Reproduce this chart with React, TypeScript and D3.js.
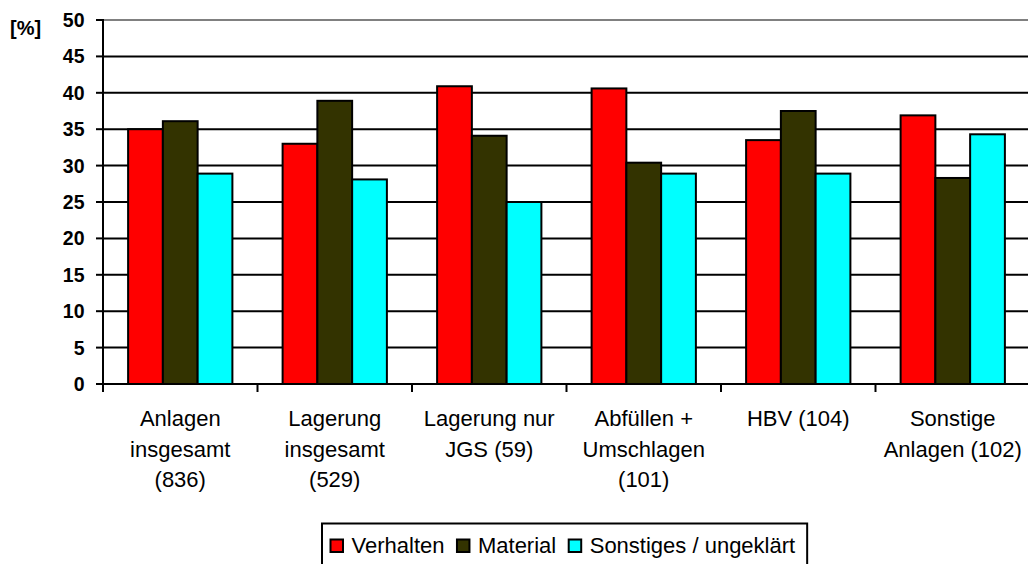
import React from "react";
import * as d3 from "d3";

const categories: string[][] = [
  ["Anlagen", "insgesamt", "(836)"],
  ["Lagerung", "insgesamt", "(529)"],
  ["Lagerung nur", "JGS (59)"],
  ["Abfüllen +", "Umschlagen", "(101)"],
  ["HBV (104)"],
  ["Sonstige", "Anlagen (102)"],
];
const seriesNames = ["Verhalten", "Material", "Sonstiges / ungeklärt"];
const verhalten = [35, 33, 40.9, 40.6, 33.5, 36.9];
const material = [36.1, 38.9, 34.1, 30.4, 37.5, 28.3];
const sonstiges = [28.9, 28.1, 25, 28.9, 28.9, 34.3];
const seriesColors = ["#FF0000", "#333300", "#00FFFF"];
const yTicks = [0, 5, 10, 15, 20, 25, 30, 35, 40, 45, 50];

const W = 1028;
const H = 564;
const FONT = "'Liberation Sans', Arial, sans-serif";

function measure(text: string, font: string): number {
  const c = document.createElement("canvas");
  const ctx = c.getContext("2d");
  if (!ctx) return text.length * 11;
  ctx.font = font;
  return ctx.measureText(text).width;
}

export default function App() {
  const series = [verhalten, material, sonstiges];
  const catKeys = categories.map((_, i) => String(i));
  const left = 103;
  const right = 1030;
  const top = 20;
  const bottom = 384;

  const x0 = d3.scaleBand<string>().domain(catKeys).range([left, right]).padding(0);
  const bw = x0.bandwidth();
  const groupW = bw * 0.675;
  const x1 = d3
    .scaleBand<string>()
    .domain(seriesNames)
    .range([(bw - groupW) / 2, (bw + groupW) / 2])
    .padding(0);
  const y = d3.scaleLinear().domain([0, 50]).range([bottom, top]);

  // legend layout
  const legFont = `22px ${FONT}`;
  const legX = 322;
  const legTop = 523.5;
  const items: { x: number; name: string; color: string }[] = [];
  let cx = legX + 8.5;
  seriesNames.forEach((n, i) => {
    items.push({ x: cx, name: n, color: seriesColors[i] });
    cx += 21 + measure(n, legFont) + 12.5;
  });
  const legRight = cx - 0.5;

  return (
    <svg
      width={W}
      height={H}
      style={{ position: "absolute", left: 0, top: 0, background: "#fff" }}
      fontFamily={FONT}
    >
      <rect x={0} y={0} width={W} height={H} fill="#fff" />
      {/* gridlines */}
      {yTicks.map((t) =>
        t === 0 ? null : (
          <line
            key={"g" + t}
            x1={left}
            x2={right}
            y1={y(t)}
            y2={y(t)}
            stroke={t === 50 ? "#808080" : "#000"}
            strokeWidth={2}
          />
        )
      )}
      {/* bars */}
      {catKeys.map((k, ci) =>
        series.map((vals, si) => (
          <rect
            key={k + "-" + si}
            x={(x0(k) as number) + (x1(seriesNames[si]) as number)}
            y={y(vals[ci])}
            width={x1.bandwidth()}
            height={y(0) - y(vals[ci])}
            fill={seriesColors[si]}
            stroke="#000"
            strokeWidth={2}
          />
        ))
      )}
      {/* axes */}
      <line x1={left} x2={left} y1={top - 1} y2={bottom + 1} stroke="#000" strokeWidth={2} />
      <line x1={left - 1} x2={right} y1={bottom} y2={bottom} stroke="#000" strokeWidth={2} />
      {yTicks.map((t) => (
        <g key={"yt" + t}>
          <line x1={left - 7} x2={left} y1={y(t)} y2={y(t)} stroke="#000" strokeWidth={2} />
          <text
            x={84.5}
            y={y(t)}
            dy="0.36em"
            textAnchor="end"
            fontSize={19.5}
            fontWeight="bold"
            fill="#000"
          >
            {t}
          </text>
        </g>
      ))}
      <text x={10} y={35} fontSize={20} fontWeight="bold" fill="#000">
        [%]
      </text>
      {/* x ticks */}
      {catKeys.concat(["end"]).map((k, i) => {
        const xx = i < catKeys.length ? (x0(k) as number) : right;
        return <line key={"xt" + i} x1={xx} x2={xx} y1={bottom} y2={bottom + 8} stroke="#000" strokeWidth={2} />;
      })}
      {categories.map((lines, ci) => (
        <text
          key={"cl" + ci}
          x={(x0(String(ci)) as number) + bw / 2}
          y={426}
          textAnchor="middle"
          fontSize={22}
          fill="#000"
        >
          {lines.map((ln, li) => (
            <tspan key={li} x={(x0(String(ci)) as number) + bw / 2} y={426 + li * 30.5}>
              {ln}
            </tspan>
          ))}
        </text>
      ))}
      {/* legend */}
      <rect
        x={legX}
        y={legTop}
        width={legRight - legX}
        height={60}
        fill="#fff"
        stroke="#000"
        strokeWidth={2}
      />
      {items.map((it) => (
        <g key={it.name}>
          <rect x={it.x} y={539.5} width={12.5} height={12.5} fill={it.color} stroke="#000" strokeWidth={2} />
          <text x={it.x + 21} y={553} fontSize={22} fill="#000">
            {it.name}
          </text>
        </g>
      ))}
    </svg>
  );
}
